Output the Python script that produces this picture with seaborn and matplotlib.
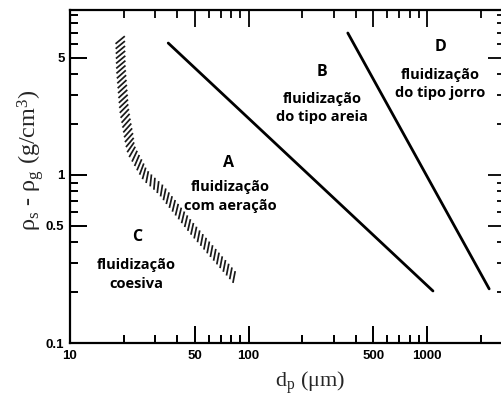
import numpy as np
import pandas as pd
import matplotlib
matplotlib.use("Agg")
import matplotlib.pyplot as plt
import seaborn as sns
from matplotlib.collections import LineCollection
from matplotlib.transforms import IdentityTransform
from matplotlib.ticker import FixedLocator, FixedFormatter, NullFormatter

# Boundary lines between fluidization groups (dp in um, density difference in g/cm3)
ab_dp = [35.5, 1080]
ab_rho = [6.1, 0.204]
bd_dp = [360, 2230]
bd_rho = [7.0, 0.21]

# Hatched transition band between cohesive (C) and aeratable (A) powders
ca_dp = [19.1, 19.3, 20.1, 22.0, 26.3, 32.4, 48.9, 83.0]
ca_rho = [6.36, 4.22, 2.44, 1.41, 1.0, 0.814, 0.471, 0.247]

# Axis ticks
x_major = [10, 50, 100, 500, 1000]
x_major_labels = ["10", "50", "100", "500", "1000"]
x_minor = [20, 30, 40, 60, 70, 80, 90, 200, 300, 400, 600, 700, 800, 900, 2000]
y_major = [0.1, 0.5, 1, 5]
y_major_labels = ["0.1", "0.5", "1", "5"]
y_minor = [0.2, 0.3, 0.4, 0.6, 0.7, 0.8, 0.9, 2, 3, 4, 6, 7, 8, 9]

# Region annotations: letter position and description position (dp, rho)
region_letters = ["A", "B", "D", "C"]
letter_dp = [76.8, 258.0, 1197.0, 23.7]
letter_rho = [1.18, 4.10, 5.78, 0.427]
desc_text = ["fluidização\ncom aeração", "fluidização\ndo tipo areia",
             "fluidização\ndo tipo jorro", "fluidização\ncoesiva"]
desc_dp = [78.7, 258.0, 1183.0, 23.4]
desc_rho = [0.744, 2.51, 3.48, 0.256]

MAJOR_LEN = 12.0   # points
MINOR_LEN = 6.0    # points
TICK_W = 1.3       # points

sns.set_theme(style="ticks")
plt.rcParams["font.family"] = ["Open Sans", "DejaVu Sans"]
plt.rcParams["mathtext.fontset"] = "custom"
plt.rcParams["mathtext.rm"] = "Liberation Serif"
plt.rcParams["mathtext.it"] = "Liberation Serif:italic"
plt.rcParams.update({
    "xtick.direction": "in", "ytick.direction": "in",
    "xtick.bottom": True, "xtick.top": True,
    "ytick.left": True, "ytick.right": True,
    "xtick.major.size": MAJOR_LEN, "ytick.major.size": MAJOR_LEN,
    "xtick.minor.size": MINOR_LEN, "ytick.minor.size": MINOR_LEN,
    "xtick.major.width": TICK_W, "ytick.major.width": TICK_W,
    "xtick.minor.width": TICK_W, "ytick.minor.width": TICK_W,
    "xtick.major.pad": 5, "ytick.major.pad": 4,
    "xtick.color": "black", "ytick.color": "black",
})

fig = plt.figure(figsize=(5.02, 4.0), dpi=100)
ax = fig.add_axes([70 / 502, 1 - 343 / 400, 435 / 502, 333.5 / 400])

ax.set_xscale("log")
ax.set_yscale("log")
ax.set_xlim(10, 2735)
ax.set_ylim(0.1, 9.66)

ax.xaxis.set_major_locator(FixedLocator(x_major))
ax.xaxis.set_major_formatter(FixedFormatter(x_major_labels))
ax.xaxis.set_minor_locator(FixedLocator(x_minor))
ax.xaxis.set_minor_formatter(NullFormatter())
ax.yaxis.set_major_locator(FixedLocator(y_major))
ax.yaxis.set_major_formatter(FixedFormatter(y_major_labels))
ax.yaxis.set_minor_locator(FixedLocator(y_minor))
ax.yaxis.set_minor_formatter(NullFormatter())

lines = pd.DataFrame({
    "dp": ab_dp + bd_dp,
    "rho": ab_rho + bd_rho,
    "boundary": ["A/B"] * 2 + ["B/D"] * 2,
})
sns.lineplot(data=lines, x="dp", y="rho", units="boundary", estimator=None,
             color="black", linewidth=2.0, ax=ax, legend=False, sort=False)
ax.set_xlim(10, 2735)
ax.set_ylim(0.1, 9.66)
ax.set_xlabel("")
ax.set_ylabel("")

inv = ax.transData.inverted()

# Short slanted strokes along the C/A band
disp = ax.transData.transform(np.column_stack([ca_dp, ca_rho]))
seg_len = np.hypot(*np.diff(disp, axis=0).T)
s = np.concatenate([[0], np.cumsum(seg_len)])
fine = np.linspace(0, s[-1], 600)
fx = np.interp(fine, s, disp[:, 0])
fy = np.interp(fine, s, disp[:, 1])
tx = np.gradient(fx)
ty = np.gradient(fy)
k = np.ones(41) / 41
tx = np.convolve(np.pad(tx, 20, mode="edge"), k, mode="valid")
ty = np.convolve(np.pad(ty, 20, mode="edge"), k, mode="valid")
n_strokes = int(s[-1] / 4.8)
pos = np.linspace(0, s[-1], n_strokes)
px = np.interp(pos, fine, fx)
py = np.interp(pos, fine, fy)
ptx = np.interp(pos, fine, tx)
pty = np.interp(pos, fine, ty)
ang = np.arctan2(-pty, -ptx) - np.deg2rad(52)
half = 6.0
segs = []
for cx, cy, a in zip(px, py, ang):
    p0 = (cx - half * np.cos(a), cy - half * np.sin(a))
    p1 = (cx + half * np.cos(a), cy + half * np.sin(a))
    segs.append(inv.transform([p0, p1]))
ax.add_collection(LineCollection(segs, colors="#1a1a1a", linewidths=1.25,
                                 capstyle="butt"), autolim=False)

for lab in ax.get_xticklabels() + ax.get_yticklabels():
    lab.set_fontfamily(["Liberation Sans", "DejaVu Sans"])
    lab.set_fontweight("bold")
    lab.set_fontsize(9.5)
    lab.set_color("black")

for side in ["left", "bottom", "top", "right"]:
    ax.spines[side].set_color("black")
    ax.spines[side].set_linewidth(1.6)

for letter, xd, yd in zip(region_letters, letter_dp, letter_rho):
    ax.text(xd, yd, letter, ha="center", va="center", fontsize=11.5,
            fontweight="bold", color="black")
for desc, xd, yd in zip(desc_text, desc_dp, desc_rho):
    ax.text(xd, yd, desc, ha="center", va="center", fontsize=10.5,
            fontweight="bold", color="black", linespacing=1.4)

fig.text(310 / 502, 1 - 383 / 400, r"d$_{\rm p}$ (μm)", ha="center", va="center",
         fontsize=16, family=["Liberation Serif", "DejaVu Serif"])
fig.text(31 / 502, 1 - 160 / 400, r"ρ$_{\rm s}$ - ρ$_{\rm g}$ (g/cm$^{3}$)",
         ha="center", va="center", rotation=90, fontsize=17.5,
         family=["Liberation Serif", "DejaVu Serif"])

# Inward tick marks along the bottom and left spines, drawn at figure level
# in pixel coordinates so they sit on top of the axes content
px_per_pt = fig.dpi / 72.0
x0_disp, y0_disp = ax.transAxes.transform((0, 0))
tick_segs = []
for vals, length in ((x_major, MAJOR_LEN), (x_minor, MINOR_LEN)):
    for v in vals:
        xd = ax.transData.transform((v, 1.0))[0]
        tick_segs.append([(xd, y0_disp), (xd, y0_disp + length * px_per_pt)])
for vals, length in ((y_major, MAJOR_LEN), (y_minor, MINOR_LEN)):
    for v in vals:
        yd = ax.transData.transform((10.0, v))[1]
        tick_segs.append([(x0_disp, yd), (x0_disp + length * px_per_pt, yd)])
edge_ticks = LineCollection(tick_segs, colors="black", linewidths=TICK_W,
                            capstyle="butt", transform=IdentityTransform(),
                            clip_on=False, zorder=5)
fig.add_artist(edge_ticks)

fig.savefig("out.png", dpi=100, facecolor="white")
